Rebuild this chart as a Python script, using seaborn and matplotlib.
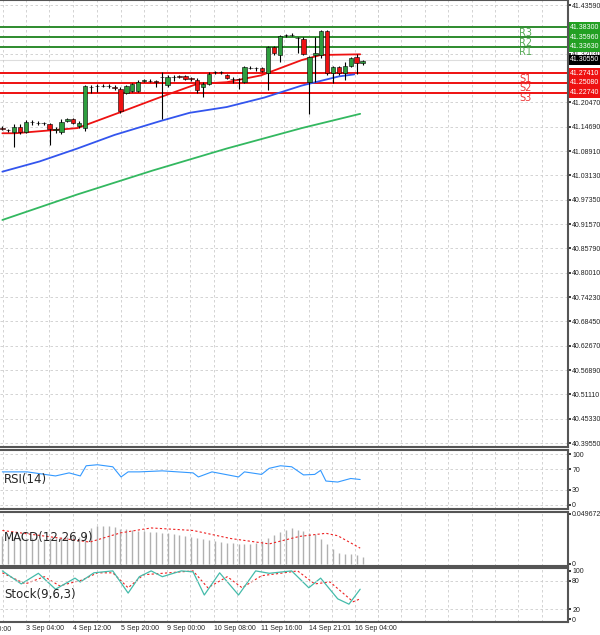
import numpy as np
import pandas as pd
import seaborn as sns
import matplotlib
matplotlib.use("Agg")
import matplotlib.pyplot as plt

# ---------------- data ----------------
opens = [41.1440,41.1400,41.1340,41.1460,41.1350,41.1580,41.1550,41.1550,41.1530,41.1400,
         41.1340,41.1600,41.1640,41.1480,41.1440,41.2420,41.2440,41.2440,41.2445,41.2420,
         41.2360,41.2280,41.2320,41.2320,41.2560,41.2560,41.2550,41.2650,41.2450,41.2660,
         41.2663,41.2663,41.2614,41.2582,41.2400,41.2485,41.2760,41.2768,41.2687,41.2598,
         41.2598,41.2525,41.2865,41.2865,41.2870,41.2750,41.3358,41.3172,41.3640,41.3657,
         41.3576,41.3560,41.2525,41.3180,41.3172,41.3737,41.2744,41.2890,41.2740,41.2905,
         41.3120,41.2970]
closes = [41.1420,41.1380,41.1450,41.1350,41.1590,41.1570,41.1548,41.1545,41.1410,41.1400,
          41.1580,41.1640,41.1560,41.1550,41.2440,41.2400,41.2445,41.2440,41.2440,41.2380,
          41.1840,41.2440,41.2480,41.2540,41.2566,41.2550,41.2540,41.2640,41.2660,41.2650,
          41.2660,41.2590,41.2610,41.2340,41.2485,41.2727,41.2768,41.2760,41.2630,41.2598,
          41.2590,41.2889,41.2865,41.2860,41.2792,41.3358,41.3212,41.3632,41.3640,41.3650,
          41.3570,41.3188,41.3131,41.3212,41.3737,41.2744,41.2890,41.2740,41.2905,41.3107,
          41.2970,41.3020]
highs = [41.1480,41.1420,41.1540,41.1530,41.1620,41.1620,41.1600,41.1590,41.1550,41.1450,
         41.1640,41.1680,41.1670,41.1600,41.2470,41.2450,41.2480,41.2480,41.2480,41.2450,
         41.2400,41.2460,41.2510,41.2570,41.2600,41.2590,41.2580,41.2760,41.2690,41.2700,
         41.2700,41.2690,41.2650,41.2620,41.2530,41.2760,41.2800,41.2800,41.2710,41.2640,
         41.2620,41.2900,41.2900,41.2890,41.2890,41.3380,41.3390,41.3650,41.3680,41.3690,
         41.3600,41.3600,41.3150,41.3590,41.3760,41.3760,41.2920,41.2910,41.3000,41.3120,
         41.3190,41.3060]
lows = [41.1380,41.1340,41.0990,41.1300,41.1310,41.1520,41.1500,41.1500,41.1030,41.1330,
        41.1300,41.1580,41.1540,41.1440,41.1370,41.2280,41.2290,41.2400,41.2390,41.2330,
        41.1800,41.2250,41.2300,41.2300,41.2530,41.2520,41.2410,41.1660,41.2400,41.2560,
        41.2620,41.2570,41.2560,41.2270,41.2180,41.2460,41.2730,41.2730,41.2600,41.2500,
        41.2364,41.2500,41.2830,41.2800,41.2760,41.2330,41.3180,41.3010,41.3600,41.3620,
        41.3230,41.3170,41.1774,41.2530,41.3100,41.2700,41.2500,41.2700,41.2570,41.2880,
        41.2720,41.2930]

ma_red_x = [0, 2.2, 12.7, 19.7, 26.6, 33, 38, 43.8, 50.7, 53.9, 60.6]
ma_red_y = [41.1313, 41.1313, 41.1435, 41.1798, 41.2162, 41.2485, 41.2525, 41.2687, 41.3051, 41.3172, 41.3188]
ma_blue_x = [0, 6.3, 12.7, 19, 26.6, 31.7, 38, 44.4, 50.7, 57, 59.6]
ma_blue_y = [41.0400, 41.0643, 41.0950, 41.1273, 41.1596, 41.1798, 41.1936, 41.2162, 41.2445, 41.2663, 41.2711]
ma_green_x = [0, 12.7, 25.4, 38, 50.7, 60.6]
ma_green_y = [40.9253, 40.9859, 41.0425, 41.0950, 41.1435, 41.1774]

res_levels = [41.3363, 41.3596, 41.3830]
res_names = ["R1", "R2", "R3"]
sup_levels = [41.2741, 41.2508, 41.2274]
sup_names = ["S1", "S2", "S3"]
current_price = 41.3055

price_ticks = [41.4359,41.3203,41.2047,41.1469,41.0891,41.0313,40.9735,40.9157,40.8579,40.8001,
               40.7423,40.6845,40.6267,40.5689,40.5111,40.4533,40.3955]

rsi_x = [0,4.2,9.0,11.3,13.2,14.2,16.1,18.7,20.1,21.3,23.2,27.1,32.3,33.2,35.5,40,41,43.9,45.2,
         47.1,49,51,52.9,53.9,54.8,56.8,59,60.6]
rsi_y = [65,65,57,63,57,77,79,75,55,65,65,67,63,55,65,55,65,60,72,77,75,59,60,68,47,45,52,50]

macd_hist = [0.028,0.027,0.027,0.026,0.026,0.026,0.025,0.025,0.026,0.026,0.027,0.027,0.028,0.027,0.030,
             0.036,0.038,0.038,0.038,0.037,0.035,0.035,0.034,0.033,0.033,0.032,0.032,0.031,0.031,0.030,
             0.029,0.028,0.027,0.026,0.025,0.024,0.023,0.022,0.021,0.021,0.020,0.020,0.020,0.021,0.023,
             0.026,0.029,0.032,0.034,0.036,0.034,0.033,0.031,0.030,0.025,0.020,0.015,0.011,0.010,0.010,
             0.009,0.007]
macd_sig_x = [0,14.8,20,25.2,32.3,38.7,45.2,50.3,54.8,56.8,60.6]
macd_sig_y = [0.0332,0.0217,0.0308,0.0357,0.0332,0.0252,0.0199,0.0273,0.0304,0.0280,0.0157]

stoch_x = [0,3.2,6.1,9,12.3,13.2,15.5,18.7,21.3,23.2,25.2,27.1,30.3,32.3,34.2,36.8,40,42.9,45.2,
           49,51.9,53.9,56.8,58.7,60.6]
stoch_y = [100,73,95,62,85,77,96,100,54,88,100,88,100,98,50,96,50,100,95,100,65,85,42,31,62]
stoch_sig_x = [0,3.9,7.1,9.7,13.5,16.1,18.7,21.3,23.9,27.1,32.3,34.8,38.1,40.6,43.9,47.7,50,52.9,
               55.5,59.4,60.6]
stoch_sig_y = [96,73,88,69,81,96,96,65,92,95,100,65,88,65,90,96,100,73,77,36,42]

time_ticks = [-3.9, 4.0, 12.0, 20.1, 27.8, 35.8, 43.8, 51.9, 59.7]
time_labels = ["2 Sep 20:00", "3 Sep 04:00", "4 Sep 12:00", "5 Sep 20:00", "9 Sep 00:00",
               "10 Sep 08:00", "11 Sep 16:00", "14 Sep 21:01", "16 Sep 04:00"]

# ---------------- figure ----------------
sns.set_theme(style="white")
small_font = "Liberation Sans"
W, H = 600, 635
fig = plt.figure(figsize=(6, 6.35), dpi=100)
XL = (-0.4, 95.8)
fs = 5

def mk(top, bot):
    return fig.add_axes([0, (H - bot) / H, 568 / W, (bot - top) / H])

ax = mk(0, 447)
ax_rsi = mk(450, 509)
ax_macd = mk(512, 566)
ax_st = mk(568, 622)

# main chart
idx = np.arange(len(opens))
df = pd.DataFrame({"i": idx, "o": opens, "c": closes, "h": highs, "l": lows})
up = df["c"] >= df["o"]
ax.vlines(df["i"], df["l"], df["h"], color="black", lw=0.8, zorder=3)
bottoms = np.minimum(df["o"], df["c"])
heights = np.maximum(np.abs(df["c"] - df["o"]), 0.0004)
ax.bar(df["i"][up], heights[up], bottom=bottoms[up], width=0.75, color="#2e9e3e",
       edgecolor="black", lw=0.4, zorder=4)
ax.bar(df["i"][~up], heights[~up], bottom=bottoms[~up], width=0.75, color="#ee1111",
       edgecolor="black", lw=0.4, zorder=4)

sns.lineplot(x=ma_green_x, y=ma_green_y, ax=ax, color="#33b860", lw=1.3, zorder=2)
sns.lineplot(x=ma_blue_x, y=ma_blue_y, ax=ax, color="#3355ee", lw=1.3, zorder=2)
sns.lineplot(x=ma_red_x, y=ma_red_y, ax=ax, color="#ee1111", lw=1.3, zorder=2)

ax.set_ylim(40.386, 41.4478)
ax.set_yticks(price_ticks)
ax.set_yticklabels([f"{v:.5f}" for v in price_ticks])
ax.grid(True, axis="y", color="#cccccc", ls=(0, (3, 3)), lw=0.6)

lab_kw = dict(fontsize=fs, family=small_font, color="white", va="center", ha="left", clip_on=False)
for lv, nm in zip(res_levels, res_names):
    ax.axhline(lv, color="#2e8b2e", lw=1.4, zorder=1)
    ax.text(87.5, lv - 0.0012, nm, color="#55aa55", fontsize=7, va="top")
    ax.text(1.004, lv, f"{lv:.5f}", transform=ax.get_yaxis_transform(),
            bbox=dict(boxstyle="square,pad=0.2", fc="#22a022", ec="none"), **lab_kw)
for lv, nm in zip(sup_levels, sup_names):
    ax.axhline(lv, color="#ee1111", lw=1.4, zorder=1)
    ax.text(87.5, lv - 0.0012, nm, color="#ee3333", fontsize=7, va="top")
    ax.text(1.004, lv, f"{lv:.5f}", transform=ax.get_yaxis_transform(),
            bbox=dict(boxstyle="square,pad=0.2", fc="#ee1111", ec="none"), **lab_kw)
ax.axhline(current_price, color="#dddddd", lw=0.8, zorder=0)
ax.text(1.004, current_price, f"{current_price:.5f}", transform=ax.get_yaxis_transform(),
        bbox=dict(boxstyle="square,pad=0.2", fc="black", ec="none"), **lab_kw)

# RSI
sns.lineplot(x=rsi_x, y=rsi_y, ax=ax_rsi, color="#3399ff", lw=0.8)
ax_rsi.set_ylim(-8, 108)
ax_rsi.set_yticks([0, 30, 70, 100])
ax_rsi.grid(True, axis="y", color="#cccccc", ls=(0, (3, 3)), lw=0.6)
ax_rsi.text(0.3, 50, "RSI(14)", fontsize=8.5, va="center")

# MACD
ax_macd.vlines(idx, 0, macd_hist, color="#b0b0b0", lw=1.0, zorder=2)
sns.lineplot(x=macd_sig_x, y=macd_sig_y, ax=ax_macd, color="#ee2222", lw=0.8, ls=(0, (2, 2)))
ax_macd.set_ylim(-0.002, 0.0515)
ax_macd.set_yticks([0, 0.049672])
ax_macd.set_yticklabels(["0", "0.049672"])
ax_macd.text(0.3, 0.026, "MACD(12,26,9)", fontsize=8.5, va="center")

# Stochastic
sns.lineplot(x=stoch_sig_x, y=stoch_sig_y, ax=ax_st, color="#ee2222", lw=0.8, ls=(0, (2, 2)))
sns.lineplot(x=stoch_x, y=stoch_y, ax=ax_st, color="#44bbaa", lw=0.9)
ax_st.set_ylim(-6, 106)
ax_st.set_yticks([0, 20, 80, 100])
ax_st.axhline(80, color="#cccccc", ls=(0, (3, 3)), lw=0.6)
ax_st.axhline(20, color="#cccccc", ls=(0, (3, 3)), lw=0.6)
ax_st.text(0.3, 52, "Stock(9,6,3)", fontsize=8.5, va="center")

for a in (ax, ax_rsi, ax_macd, ax_st):
    a.set_xlabel("")
    a.set_ylabel("")
    a.yaxis.tick_right()
    a.tick_params(axis="y", labelsize=fs, length=2, pad=1, colors="#222222")
    for t in a.get_yticklabels():
        t.set_family(small_font)
    a.tick_params(axis="x", length=0)
    a.set_xticks(time_ticks)
    a.set_xticks([t + 3.96 for t in time_ticks] + [67.6 + 7.93 * k for k in range(4)] +
                 [63.6 + 7.93 * k for k in range(4)], minor=True)
    a.grid(True, which="both", axis="x", color="#cccccc", ls=(0, (3, 3)), lw=0.6)
    a.set_xticklabels([])
    a.set_xlim(*XL)
    for s in a.spines.values():
        s.set_color("#555555")
        s.set_linewidth(1.5)
    a.spines["left"].set_visible(False)

ax_st.set_xticklabels(time_labels, fontsize=fs, ha="left", family=small_font)
ax_st.tick_params(axis="x", pad=2)
ax_st.set_xlim(*XL)
# first label sits partly left of the plot edge, as in the reference
ax_st.text(time_ticks[0] - 1.0, -0.07, time_labels[0], transform=ax_st.get_xaxis_transform(),
           fontsize=fs, family=small_font, ha="left", va="top", clip_on=False)

fig.savefig("out.png", dpi=100)
